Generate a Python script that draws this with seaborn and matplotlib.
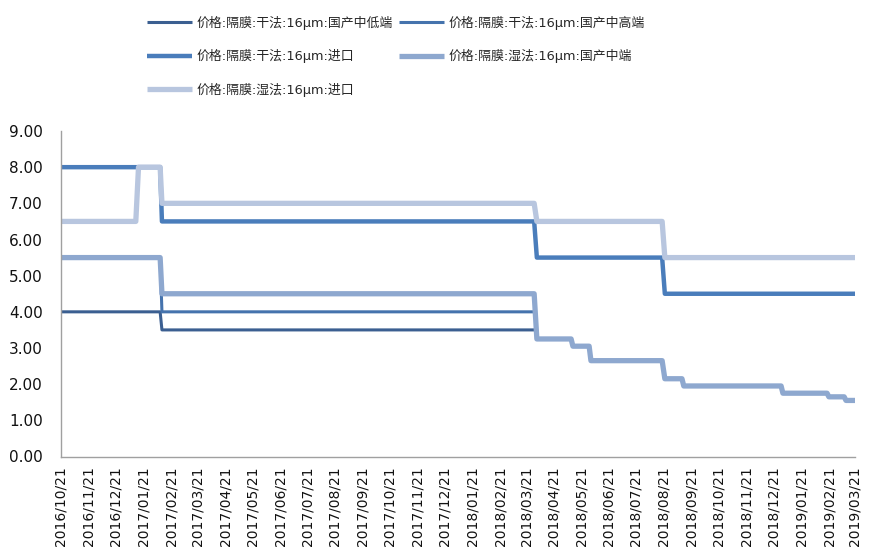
import matplotlib
matplotlib.use("Agg")
import matplotlib.pyplot as plt
from matplotlib.lines import Line2D
import pandas as pd
import seaborn as sns

# Separator price series (yuan per square metre)
series_names = [
    "价格:隔膜:干法:16μm:国产中低端",
    "价格:隔膜:干法:16μm:国产中高端",
    "价格:隔膜:干法:16μm:进口",
    "价格:隔膜:湿法:16μm:国产中端",
    "价格:隔膜:湿法:16μm:进口",
]

dry_low_dates = ["2016-10-21", "2017-02-08", "2017-02-10", "2018-03-30"]
dry_low_vals = [4.0, 4.0, 3.5, 3.5]

dry_midhigh_dates = ["2016-10-21", "2017-02-08", "2017-02-10", "2018-03-30"]
dry_midhigh_vals = [5.5, 5.5, 4.0, 4.0]

dry_import_dates = ["2016-10-21", "2017-02-08", "2017-02-10", "2018-03-30",
                    "2018-04-02", "2018-08-19", "2018-08-22", "2019-03-21"]
dry_import_vals = [8.0, 8.0, 6.5, 6.5, 5.5, 5.5, 4.5, 4.5]

wet_mid_dates = ["2016-10-21", "2017-02-08", "2017-02-10", "2018-03-30",
                 "2018-04-02", "2018-05-10", "2018-05-12", "2018-05-30",
                 "2018-06-01", "2018-08-19", "2018-08-22", "2018-09-10",
                 "2018-09-12", "2018-12-29", "2018-12-31", "2019-02-18",
                 "2019-02-20", "2019-03-09", "2019-03-11", "2019-03-21"]
wet_mid_vals = [5.5, 5.5, 4.5, 4.5, 3.25, 3.25, 3.05, 3.05, 2.65, 2.65,
                2.15, 2.15, 1.95, 1.95, 1.75, 1.75, 1.65, 1.65, 1.55, 1.55]

wet_import_dates = ["2016-10-21", "2017-01-12", "2017-01-15", "2017-02-08",
                    "2017-02-10", "2018-03-30", "2018-04-02", "2018-08-19",
                    "2018-08-22", "2019-03-21"]
wet_import_vals = [6.5, 6.5, 8.0, 8.0, 7.0, 7.0, 6.5, 6.5, 5.5, 5.5]

x_tick_labels = [
    "2016/10/21", "2016/11/21", "2016/12/21", "2017/01/21", "2017/02/21",
    "2017/03/21", "2017/04/21", "2017/05/21", "2017/06/21", "2017/07/21",
    "2017/08/21", "2017/09/21", "2017/10/21", "2017/11/21", "2017/12/21",
    "2018/01/21", "2018/02/21", "2018/03/21", "2018/04/21", "2018/05/21",
    "2018/06/21", "2018/07/21", "2018/08/21", "2018/09/21", "2018/10/21",
    "2018/11/21", "2018/12/21", "2019/01/21", "2019/02/21", "2019/03/21",
]
y_ticks = [0, 1, 2, 3, 4, 5, 6, 7, 8, 9]

colors = ["#3b5f91", "#4573ad", "#4a7dbb", "#8ea8cf", "#b8c6df"]
widths = [2.2, 2.2, 3.2, 3.8, 3.8]

sns.set_theme(style="white")
plt.rcParams["font.family"] = ["DejaVu Sans", "Noto Sans CJK SC"]

fig = plt.figure(figsize=(8.72, 5.47), dpi=100)
ax = fig.add_axes([61 / 872, 1 - 456.5 / 547, (855 - 61) / 872, (456.5 - 131) / 547])

all_dates = [dry_low_dates, dry_midhigh_dates, dry_import_dates, wet_mid_dates, wet_import_dates]
all_vals = [dry_low_vals, dry_midhigh_vals, dry_import_vals, wet_mid_vals, wet_import_vals]

handles = []
for name, d, v, c, w in zip(series_names, all_dates, all_vals, colors, widths):
    df = pd.DataFrame({"date": pd.to_datetime(d), "price": v})
    sns.lineplot(data=df, x="date", y="price", ax=ax, color=c, linewidth=w,
                 estimator=None, sort=False,
                 solid_capstyle="round", solid_joinstyle="round")
    handles.append(Line2D([0], [0], color=c, linewidth=w, solid_capstyle="butt"))

tick_dates = pd.to_datetime(x_tick_labels, format="%Y/%m/%d")
ax.set_xlim(tick_dates[0], tick_dates[-1])
ax.set_ylim(0, 9)
ax.set_xticks(tick_dates)
ax.set_xticklabels(x_tick_labels, rotation=90, fontsize=10, color="#111111")
ax.set_yticks(y_ticks)
ax.set_yticklabels([f"{t:.2f}" for t in y_ticks], fontsize=11, color="#111111")
ax.set_xlabel("")
ax.set_ylabel("")

for side in ["top", "right"]:
    ax.spines[side].set_visible(False)
for side in ["left", "bottom"]:
    ax.spines[side].set_color("#a0a0a0")
    ax.spines[side].set_linewidth(1.0)
ax.tick_params(axis="both", which="major", direction="out", length=4,
               width=1.0, color="#a0a0a0")
ax.tick_params(axis="y", pad=9)
ax.tick_params(axis="x", pad=3)

order = [0, 2, 4, 1, 3]
fig.legend([handles[i] for i in order], [series_names[i] for i in order],
           loc="upper left", bbox_to_anchor=(147 / 872, 1 - 16 / 547),
           ncol=2, frameon=False, fontsize=9.3, handlelength=3.5,
           handletextpad=0.35, columnspacing=0.45, labelspacing=1.5,
           borderaxespad=0, borderpad=0)

fig.savefig("out.png", dpi=100)
